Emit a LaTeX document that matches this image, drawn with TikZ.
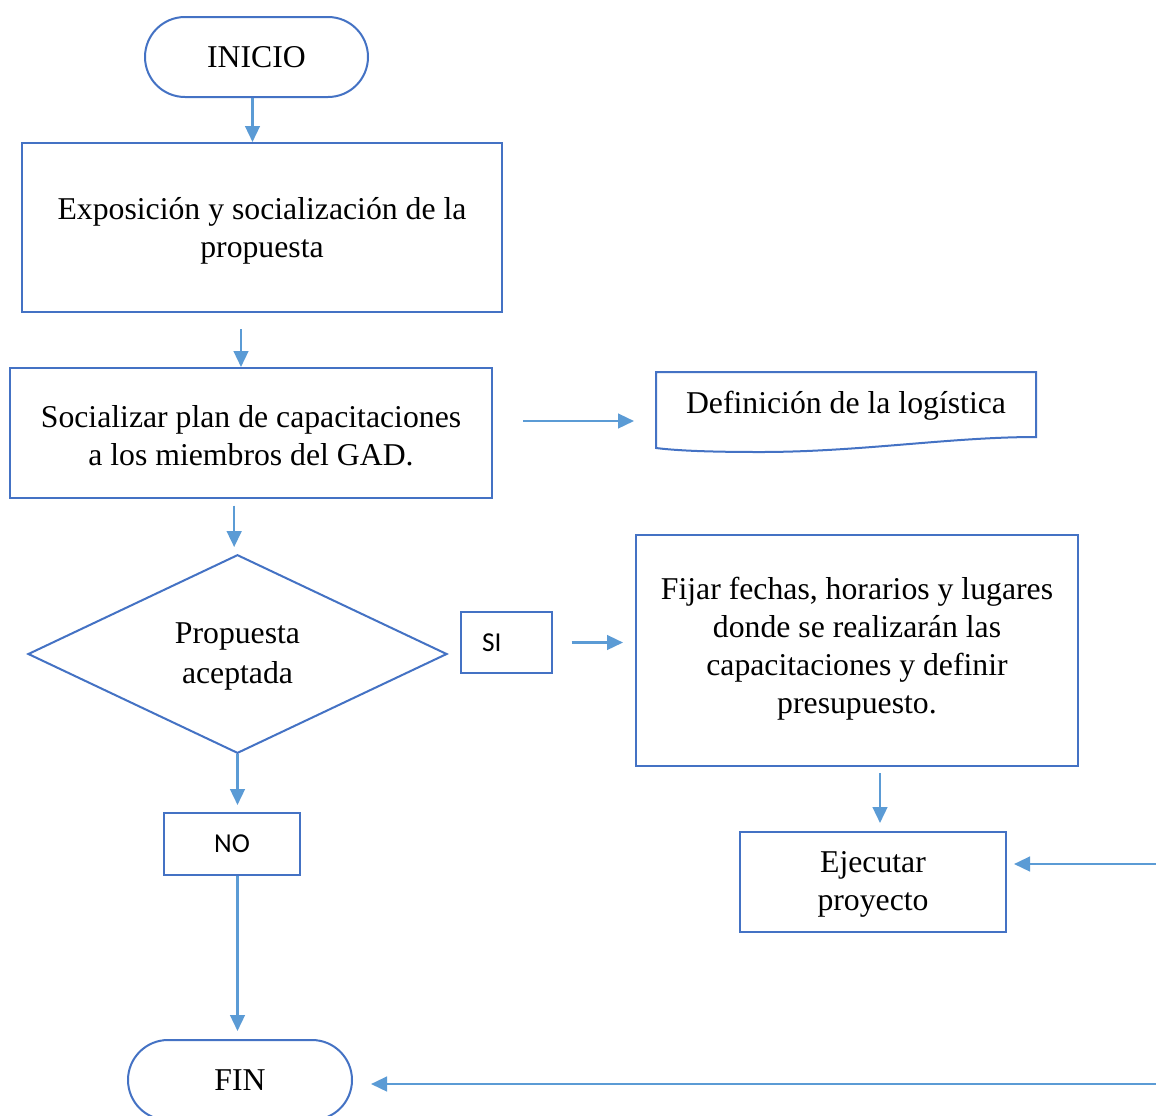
\documentclass[tikz,border=0pt]{standalone}
\usepackage{fontspec}
\setmainfont{Liberation Serif}
\newfontfamily\calib{Carlito}
\usetikzlibrary{arrows.meta,shapes.geometric}
\definecolor{bord}{HTML}{4472C4}
\definecolor{arr}{HTML}{5B9BD5}
\begin{document}
\begin{tikzpicture}[x=0.75pt,y=-0.75pt,
  box/.style={draw=bord,line width=1.5pt,rectangle,inner sep=0pt,
    font=\fontsize{23.8}{28.5}\selectfont,align=center},
  term/.style={box,rounded corners=30pt},
  small/.style={box,font=\calib\fontsize{20.5}{24}\selectfont},
  conn/.style={draw=arr,line width=1.8pt,-{Triangle[length=12pt,width=11pt]}}]
\useasboundingbox (0,0) rectangle (1156,1115);
\clip (0,0) rectangle (1156,1115);
\fill[white] (0,0) rectangle (1156,1115);

\node[term,minimum width=167.25pt,minimum height=60pt] (inicio) at (256.5,57) {INICIO};
\node[box,minimum width=360pt,minimum height=126.75pt] (box1) at (262,227.5)
  {\rule{0pt}{22pt}Exposición y socialización de la\\propuesta};
\node[box,minimum width=361.5pt,minimum height=97.5pt] (box2) at (251,433)
  {\rule{0pt}{20pt}Socializar plan de capacitaciones\\a los miembros del GAD.};
\node[box,draw=none,minimum width=285pt,minimum height=40pt] (doc) at (846,406)
  {Definición de la logística};
\draw[bord,line width=1.5pt] (656,372) -- (1036,372) -- (1036,437)
  .. controls (950,437) and (860,452) .. (760,452)
  .. controls (700,452) and (672,450) .. (656,448) -- cycle;
\node[box,shape=diamond,minimum width=314.25pt,minimum height=148.5pt] (dia) at (237.5,654)
  {\rule{0pt}{20pt}Propuesta\\[1.5pt]aceptada};
\node[small,minimum width=68.25pt,minimum height=45.75pt] (si) at (506.5,642.5) {SI\hspace*{22pt}};
\node[box,minimum width=331.5pt,minimum height=173.25pt] (box3) at (857,650.5)
  {Fijar fechas, horarios y lugares\\donde se realizarán las\\capacitaciones y definir\\presupuesto.\rule[-8pt]{0pt}{8pt}};
\node[box,minimum width=199.5pt,minimum height=75pt] (box4) at (873,882)
  {\rule{0pt}{19pt}Ejecutar\\proyecto};
\node[small,minimum width=102pt,minimum height=46.5pt] (no) at (232,844) {NO};
\node[term,minimum width=168pt,minimum height=60pt] (fin) at (240,1080) {FIN};

\coordinate (r1) at (1156,864);
\coordinate (r2) at (1156,1084);

\draw[conn] ([xshift=-3pt]inicio.south) -- ([xshift=-3pt]inicio.south |- box1.north);
\draw[conn] ([xshift=-15.75pt,yshift=-12pt]box1.south) -- ([xshift=-7.5pt]box2.north);
\draw[conn,shorten >=15.75pt] ([xshift=22.5pt,yshift=9pt]box2.east) -- ([yshift=9pt]box2.east -| doc.west);
\draw[conn,shorten <=5pt,shorten >=5pt] ([xshift=-2.5pt]box2.south -| dia.north) -- ([xshift=-2.5pt]dia.north);
\draw[conn,shorten <=14pt,shorten >=9pt] (si.east) -- (si.east -| box3.west);
\draw[conn,shorten <=4.5pt,shorten >=6pt] ([xshift=5.25pt]box4.north |- box3.south) -- ([xshift=5.25pt]box4.north);
\draw[conn,shorten >=5.25pt] (r1) -- (r1 -| box4.east);
\draw[conn,shorten >=5.25pt] (dia.south) -- (dia.south |- no.north);
\draw[conn,shorten >=6pt] (no.south -| dia.south) -- (dia.south |- fin.north);
\draw[conn,shorten >=13.5pt] (r2) -- (r2 -| fin.east);
\end{tikzpicture}
\end{document}
